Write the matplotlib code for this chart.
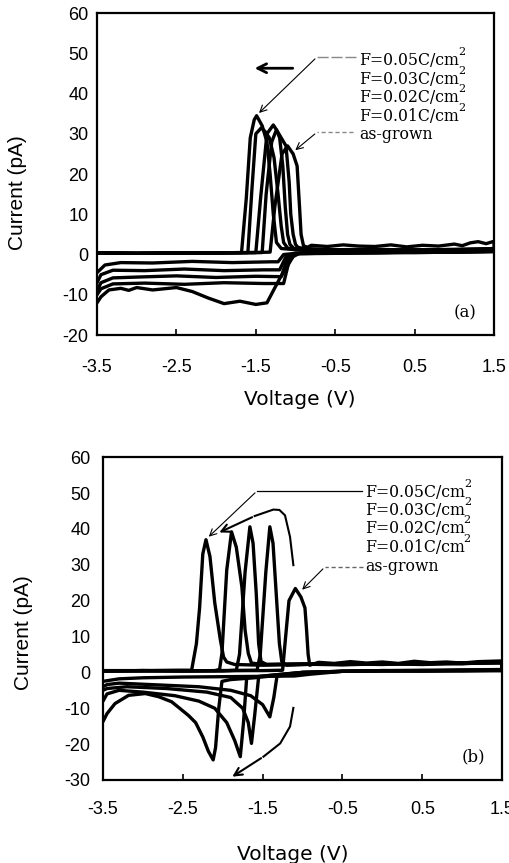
import matplotlib
matplotlib.use("Agg")
import matplotlib.pyplot as plt

plt.rcParams["axes.unicode_minus"] = False

# ---------------- panel (a) ----------------
labels = ["F=0.05C/cm", "F=0.03C/cm", "F=0.02C/cm", "F=0.01C/cm", "as-grown"]

a_v_005 = [-3.5, -3.0, -2.5, -2.0, -1.68, -1.62, -1.57, -1.52, -1.49, -1.42, -1.36, -1.32, -1.28, -1.24, -1.18,
           -1.0, -0.5, 0.0, 0.5, 1.0, 1.5,
           1.5, 1.0, 0.5, 0.0, -0.5, -1.0, -1.15, -1.22, -1.3, -1.8, -2.3, -2.8, -3.2, -3.4, -3.5]
a_i_005 = [0.4, 0.3, 0.4, 0.4, 0.5, 14, 29, 33.5, 34.5, 32, 28, 20, 10, 3, 1.5,
           1.2, 1.0, 1.1, 1.0, 1.2, 1.3,
           0.8, 0.6, 0.5, 0.5, 0.4, 0.3, 0.0, -1.8, -1.8, -2.0, -1.7, -2.1, -2.0, -2.6, -4.5]

a_v_003 = [-3.5, -3.0, -2.5, -2.0, -1.6, -1.55, -1.5, -1.43, -1.38, -1.33, -1.27, -1.22, -1.18, -1.15, -1.1,
           -1.0, -0.5, 0.0, 0.5, 1.0, 1.5,
           1.5, 1.0, 0.5, 0.0, -0.5, -1.0, -1.12, -1.2, -1.4, -1.9, -2.4, -2.9, -3.3, -3.45, -3.5]
a_i_003 = [0.4, 0.3, 0.4, 0.4, 0.5, 16, 30, 31.5, 30.5, 29, 24, 15, 7, 3, 1.6,
           1.3, 1.1, 1.0, 1.2, 1.1, 1.3,
           0.7, 0.6, 0.6, 0.4, 0.5, 0.3, -0.5, -3.8, -3.8, -4.0, -3.6, -4.0, -3.9, -5.0, -7.0]

a_v_002 = [-3.5, -3.0, -2.5, -2.0, -1.5, -1.44, -1.36, -1.28, -1.24, -1.2, -1.16, -1.13, -1.1, -1.07, -1.02,
           -0.9, -0.5, 0.0, 0.5, 1.0, 1.5,
           1.5, 1.0, 0.5, 0.0, -0.5, -1.0, -1.1, -1.18, -1.5, -2.0, -2.5, -3.0, -3.3, -3.45, -3.5]
a_i_002 = [0.4, 0.3, 0.4, 0.4, 0.5, 14, 30, 32.2, 31, 29, 22, 12, 5, 2.5, 1.5,
           1.3, 1.2, 1.0, 1.1, 1.3, 1.4,
           0.8, 0.6, 0.5, 0.5, 0.3, 0.2, -0.8, -5.5, -5.4, -5.7, -5.3, -5.6, -5.8, -7.0, -9.0]

a_v_001 = [-3.5, -3.0, -2.5, -2.0, -1.42, -1.37, -1.3, -1.24, -1.18, -1.12, -1.08, -1.06, -1.03, -1.0, -0.97,
           -0.9, -0.5, 0.0, 0.5, 1.0, 1.5,
           1.5, 1.0, 0.5, 0.0, -0.5, -1.0, -1.08, -1.15, -1.4, -1.9, -2.4, -2.9, -3.3, -3.45, -3.5]
a_i_001 = [0.4, 0.3, 0.4, 0.4, 0.5, 15, 28, 31, 29, 27, 18, 10, 5, 2.5, 1.8,
           1.5, 1.2, 1.3, 1.1, 1.2, 1.5,
           0.9, 0.7, 0.6, 0.5, 0.4, 0.2, -1.5, -7.2, -7.2, -7.0, -7.4, -7.1, -7.3, -8.5, -10.0]

a_v_asg = [-3.5, -3.0, -2.5, -2.0, -1.5, -1.32, -1.26, -1.17, -1.1, -1.03, -0.98, -0.95, -0.93, -0.9, -0.85,
           -0.8, -0.6, -0.4, -0.2, 0.0, 0.2, 0.4, 0.6, 0.8, 1.0, 1.1, 1.2, 1.3, 1.4, 1.5,
           1.5, 1.0, 0.5, 0.0, -0.5, -0.95, -1.03, -1.2, -1.36, -1.5, -1.7, -1.9, -2.1, -2.3, -2.5,
           -2.8, -3.0, -3.1, -3.2, -3.35, -3.45, -3.5]
a_i_asg = [0.4, 0.3, 0.4, 0.4, 0.5, 0.6, 12, 25, 27, 25, 22, 12, 5, 2.2, 1.8,
           2.3, 2.0, 2.4, 2.1, 2.0, 2.4, 1.9, 2.3, 2.1, 2.6, 2.2, 2.9, 3.2, 2.7, 3.3,
           1.0, 0.8, 0.6, 0.5, 0.4, 0.3, -0.5, -6.0, -12.0, -12.4, -11.6, -12.2, -10.8, -9.2, -8.2,
           -8.8, -8.2, -8.9, -8.4, -8.8, -10.5, -12.0]

# ---------------- panel (b) ----------------
b_v_005 = [-3.5, -3.0, -2.6, -2.39, -2.33, -2.29, -2.25, -2.21, -2.16, -2.1, -2.03, -1.99, -1.95, -1.85, -1.5,
           -1.0, -0.5, 0.0, 0.5, 1.0, 1.5,
           1.5, 1.0, 0.5, 0.0, -0.5, -1.0, -1.3, -1.6, -1.9, -2.01, -2.05, -2.09, -2.12, -2.18, -2.25,
           -2.34, -2.43, -2.54, -2.64, -2.8, -2.97, -3.18, -3.35, -3.45, -3.5]
b_i_005 = [0.5, 0.5, 0.6, 0.6, 8, 18, 33, 37, 32.3, 19.4, 9.1, 4.3, 2.9, 2.2, 2.0,
           2.2, 2.5, 2.3, 2.6, 2.5, 2.8,
           0.6, 0.5, 0.4, 0.5, 0.3, 0.0, -0.8, -1.5, -2.0, -2.5, -10, -21, -24.4, -22, -18,
           -14, -12, -10, -8.2, -6.8, -5.9, -6.4, -8.7, -11.5, -13.7]

b_v_003 = [-3.5, -3.0, -2.5, -2.1, -2.04, -2.01, -1.95, -1.89, -1.83, -1.76, -1.72, -1.68, -1.64, -1.5, -1.0,
           -0.5, 0.0, 0.5, 1.0, 1.5,
           1.5, 1.0, 0.5, 0.0, -0.5, -1.0, -1.4, -1.7, -1.74, -1.78, -1.85, -1.95, -2.1, -2.3, -2.6,
           -3.0, -3.3, -3.45, -3.5]
b_i_003 = [0.4, 0.5, 0.4, 0.5, 0.8, 5.3, 28.5, 39.2, 34.9, 23.8, 11.8, 5.3, 2.6, 2.2, 2.4,
           2.2, 2.5, 2.3, 2.7, 2.6,
           0.5, 0.6, 0.4, 0.4, 0.3, 0.0, -0.8, -1.5, -14, -23.5, -19, -14, -10, -8, -6.5,
           -5.5, -5.0, -6.0, -8.0]

b_v_002 = [-3.5, -3.0, -2.5, -2.0, -1.83, -1.79, -1.72, -1.66, -1.62, -1.58, -1.55, -1.52, -1.45, -1.0,
           -0.5, 0.0, 0.5, 1.0, 1.5,
           1.5, 1.0, 0.5, 0.0, -0.5, -1.0, -1.3, -1.55, -1.6, -1.64, -1.68, -1.75, -1.9, -2.2, -2.7,
           -3.2, -3.45, -3.5]
b_i_002 = [0.4, 0.4, 0.5, 0.4, 0.6, 5, 28, 40.6, 36, 22, 8, 3, 2.2, 2.3,
           2.1, 2.4, 2.2, 2.5, 2.7,
           0.5, 0.4, 0.5, 0.4, 0.3, 0.0, -0.6, -1.2, -12, -19.8, -14, -10, -7, -5.5, -4.5,
           -4.0, -4.5, -5.0]

b_v_001 = [-3.5, -3.0, -2.5, -2.0, -1.57, -1.53, -1.46, -1.41, -1.37, -1.33, -1.29, -1.26, -1.2, -1.0,
           -0.5, 0.0, 0.5, 1.0, 1.5,
           1.5, 1.0, 0.5, 0.0, -0.5, -1.0, -1.32, -1.36, -1.41, -1.5, -1.65, -1.9, -2.3, -2.8, -3.3,
           -3.45, -3.5]
b_i_001 = [0.4, 0.5, 0.4, 0.5, 0.6, 5, 28, 40.6, 36, 22, 8, 3, 2.0, 2.2,
           2.4, 2.2, 2.6, 2.4, 2.9,
           0.6, 0.5, 0.4, 0.5, 0.3, -0.2, -1.0, -7, -12.4, -9, -6.5, -5.0, -4.0, -3.5, -3.0,
           -3.4, -4.0]

b_v_asg = [-3.5, -3.0, -2.5, -2.0, -1.5, -1.25, -1.22, -1.17, -1.09, -1.02, -0.97, -0.95, -0.93, -0.91,
           -0.8, -0.6, -0.4, -0.2, 0.0, 0.2, 0.4, 0.6, 0.8, 1.0, 1.2, 1.5,
           1.5, 1.0, 0.5, 0.0, -0.5, -0.9, -1.1, -1.5, -2.0, -2.5, -3.0, -3.3, -3.5]
b_i_asg = [0.4, 0.5, 0.4, 0.5, 0.5, 0.6, 8, 20, 23.4, 21, 18, 12, 5, 2.0,
           2.8, 2.5, 3.0, 2.6, 2.9, 2.5, 3.1, 2.7, 2.9, 2.6, 3.0, 3.2,
           0.8, 0.7, 0.6, 0.5, 0.3, -0.5, -1.0, -1.1, -1.2, -1.3, -1.5, -1.8, -2.5]

a_curves = [(a_v_005, a_i_005), (a_v_003, a_i_003), (a_v_002, a_i_002), (a_v_001, a_i_001), (a_v_asg, a_i_asg)]
b_curves = [(b_v_005, b_i_005), (b_v_003, b_i_003), (b_v_002, b_i_002), (b_v_001, b_i_001), (b_v_asg, b_i_asg)]

x_ticks = [-3.5, -2.5, -1.5, -0.5, 0.5, 1.5]
a_y_ticks = [-20, -10, 0, 10, 20, 30, 40, 50, 60]
b_y_ticks = [-30, -20, -10, 0, 10, 20, 30, 40, 50, 60]

SANS = "Liberation Sans"
SERIF = "DejaVu Serif"

fig = plt.figure(figsize=(5.09, 8.63), dpi=100)
ax_a = fig.add_axes([0.1906, 0.6118, 0.780, 0.373])
ax_b = fig.add_axes([0.2024, 0.0962, 0.784, 0.374])


def style_axes(ax, y_ticks, ylim, xpad, ypad):
    ax.set_xlim(-3.5, 1.5)
    ax.set_ylim(*ylim)
    ax.set_xticks(x_ticks)
    ax.set_yticks(y_ticks)
    ax.tick_params(axis="x", direction="in", length=4, width=1.2, pad=xpad, labelsize=13)
    ax.tick_params(axis="y", direction="in", length=0, width=1.2, pad=ypad, labelsize=13)
    for lab in ax.get_xticklabels() + ax.get_yticklabels():
        lab.set_family(SANS)
    for s in ax.spines.values():
        s.set_linewidth(1.6)


def draw_curves(ax, curves):
    for v, i in curves:
        ax.plot(v, i, color="black", lw=2.4, solid_joinstyle="round", solid_capstyle="round")


def legend_block(ax, x, ys):
    for lab, y in zip(labels, ys):
        t = ax.text(x, y, lab, family=SERIF, fontsize=11.3, va="center", ha="left")
        if lab != "as-grown":
            ax.annotate("2", xy=(0.99, 1.0), xycoords=t, family=SERIF, fontsize=8,
                        va="center", ha="left")


# panel (a)
draw_curves(ax_a, a_curves)
style_axes(ax_a, a_y_ticks, (-20, 60), 17.5, 6)
legend_block(ax_a, -0.2, [48.2, 43.6, 39.0, 34.4, 29.8])
ax_a.annotate("", xy=(-1.55, 46.3), xytext=(-1.0, 46.3),
              arrowprops=dict(arrowstyle="->", color="black", lw=2.0, mutation_scale=16))
ax_a.plot([-0.24, -0.73], [49.1, 49.1], color="#888888", lw=1.0, dashes=(8, 2))
ax_a.annotate("", xy=(-1.485, 34.7), xytext=(-0.73, 49.1),
              arrowprops=dict(arrowstyle="->", color="black", lw=0.8, mutation_scale=12))
ax_a.plot([-0.28, -0.73], [30.4, 30.4], color="#888888", lw=1.0, dashes=(3, 2))
ax_a.annotate("", xy=(-1.03, 25.5), xytext=(-0.73, 30.4),
              arrowprops=dict(arrowstyle="->", color="black", lw=0.8, mutation_scale=12))
ax_a.text(1.13, -14.5, "(a)", family=SERIF, fontsize=12, ha="center", va="center")
ax_a.set_xlabel("Voltage (V)", family="DejaVu Sans", fontsize=14.5)
ax_a.xaxis.set_label_coords(0.51, -0.172)
ax_a.set_ylabel("Current (pA)", family=SANS, fontsize=15)
ax_a.yaxis.set_label_coords(-0.176, 0.441)

# panel (b)
draw_curves(ax_b, b_curves)
style_axes(ax_b, b_y_ticks, (-30, 60), 15, 9)
legend_block(ax_b, -0.22, [50.2, 45.2, 40.0, 34.9, 29.4])
ax_b.plot([-0.26, -1.57], [50.6, 50.6], color="black", lw=0.9)
ax_b.annotate("", xy=(-2.2, 37.3), xytext=(-1.57, 50.6),
              arrowprops=dict(arrowstyle="->", color="black", lw=0.8, mutation_scale=12))
ax_b.plot([-0.24, -0.72], [29.4, 29.4], color="#666666", lw=1.0, dashes=(3, 2))
ax_b.annotate("", xy=(-1.03, 22.5), xytext=(-0.72, 29.4),
              arrowprops=dict(arrowstyle="->", color="black", lw=0.8, mutation_scale=12))
# curved sweep arrows
ax_b.plot([-1.115, -1.157, -1.22, -1.29, -1.366, -1.6], [29.9, 37.8, 43.8, 45.3, 45.4, 43.6],
          color="black", lw=1.5)
ax_b.annotate("", xy=(-2.075, 38.7), xytext=(-1.6, 43.6),
              arrowprops=dict(arrowstyle="->", color="black", lw=1.5, mutation_scale=14))
ax_b.plot([-1.115, -1.157, -1.28, -1.49], [-9.9, -15.1, -19.8, -23.5], color="black", lw=1.5)
ax_b.annotate("", xy=(-1.91, -29.5), xytext=(-1.49, -23.5),
              arrowprops=dict(arrowstyle="->", color="black", lw=1.5, mutation_scale=14))
ax_b.text(1.14, -23.6, "(b)", family=SERIF, fontsize=12, ha="center", va="center")
ax_b.set_xlabel("Voltage (V)", family="DejaVu Sans", fontsize=14.5)
ax_b.xaxis.set_label_coords(0.476, -0.2)
ax_b.set_ylabel("Current (pA)", family=SANS, fontsize=15)
ax_b.yaxis.set_label_coords(-0.175, 0.455)

fig.savefig("out.png", dpi=100)
